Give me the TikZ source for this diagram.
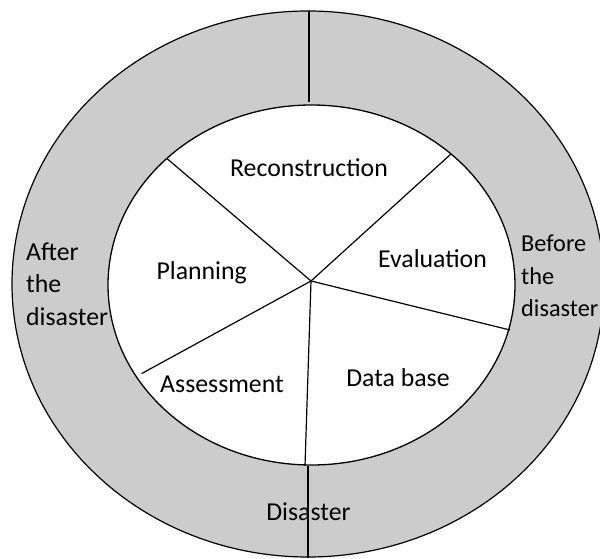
\documentclass[tikz,border=0pt]{standalone}
\usepackage{fontspec}
\setmainfont{Carlito}
\definecolor{ringgray}{RGB}{204,204,204}
\tikzset{
  lbl/.style={font=\fontsize{25.8}{32.7}\selectfont, inner sep=0pt, text=black},
  sidelbl/.style={lbl, align=left, anchor=west},
  rim/.style={line width=1.2pt, draw=black},
  spoke/.style={line width=1.2pt, draw=black},
}
\begin{document}
\begin{tikzpicture}[x=1pt,y=-1pt]
\useasboundingbox (0,0) rectangle (600,559);
\clip (0,0) rectangle (600,559);
% outer ring
\path[rim, fill=ringgray] (308,284) ellipse [x radius=296pt, y radius=273pt];
% inner disc
\path[rim, line width=1.3pt, fill=white] (311.5,285) ellipse [x radius=203.5pt, y radius=180pt];
% coordinates
\coordinate (c) at (311,281);
\coordinate (ul) at (167,158.6);
\coordinate (ur) at (451,154);
\coordinate (r) at (510,330);
\coordinate (b) at (305,465.5);
\coordinate (ll) at (141.6,373.6);
\coordinate (ot) at (309,11);
\coordinate (it) at (309,102);
\coordinate (ib) at (308,466);
\coordinate (ob) at (308,558);
% labels
\node[lbl] (recon) at (309,168) {Reconstruction};
\node[lbl] (plan) at (201.7,273) {Planning};
\node[lbl] (eval) at (432.5,259) {Evaluation};
\node[lbl] (db) at (398,378) {Data base};
\node[lbl] (assess) at (222,384) {Assessment};
\node[lbl] (dis) at (308.5,512) {Disaster};
\node[sidelbl] (after) at (26,284) {After\\the\\disaster};
\node[sidelbl, font=\fontsize{24.3}{32.7}\selectfont] (before) at (521,276) {Before\\the\\disaster};
% spokes
\draw[spoke] (c) -- (ul);
\draw[spoke] (c) -- (ur);
\draw[spoke] (c) -- (r);
\draw[spoke] (c) -- (b);
\draw[spoke] (c) -- (ll);
\draw[spoke] (ot) -- (it);
\draw[spoke] (ib) -- (ob);
\end{tikzpicture}
\end{document}
